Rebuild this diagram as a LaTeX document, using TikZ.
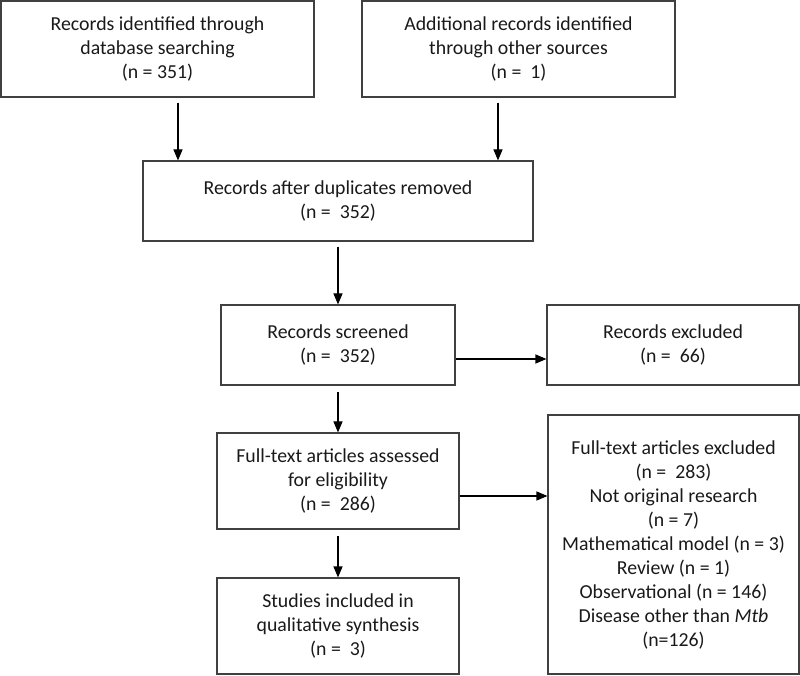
\documentclass[tikz,border=0pt]{standalone}
\usepackage{fontspec}
\setmainfont{Carlito}
\usetikzlibrary{arrows.meta}
\usetikzlibrary{calc}

\tikzset{
  box/.style={draw=black!75, line width=1.1pt, align=center, inner sep=0pt,
    font=\fontsize{19.8}{24}\selectfont, text=black!90},
  flow/.style={-{Triangle[length=11pt,width=9pt]}, line width=1.1pt}
}

\begin{document}
\begin{tikzpicture}[x=1pt,y=1pt]
			\useasboundingbox (0,0) rectangle (800,675);
			
			\node[box, minimum width=313pt, minimum height=96pt] (dbase) at (157.5,626) {Records identified through\\database searching\\(n = 351)};
			
			\node[box, minimum width=313pt, minimum height=96pt] (other) at (518.5,626) {Additional records identified\\through other sources\\(n =~~1)};
			
			\node[box, minimum width=390pt, minimum height=80pt] (dupl) at (338,474) {Records after duplicates removed\\(n =~~352)};
			
			\node[box, minimum width=234pt, minimum height=80pt] (screen) at (338,330) {Records screened\\(n =~~352)};
			
			\node[box, minimum width=252pt, minimum height=80pt] (excl) at (673,330) {Records excluded\\(n =~~66)};
			
			\node[box, minimum width=242pt, minimum height=96pt] (full) at (338,194) {Full-text articles assessed\\for eligibility\\(n =~~286)};
			
			\node[box, minimum width=251pt, minimum height=259pt] (fullexcl) at (673.5,130.5) {Full-text articles excluded\\(n =~~283)\\Not original research\\(n = 7)\\Mathematical model (n = 3)\\Review (n = 1)\\Observational (n = 146)\\Disease other than \textit{Mtb}\\(n=126)};
			
			\node[box, minimum width=242pt, minimum height=96pt] (incl) at (338,49) {Studies included in\\qualitative synthesis\\(n =~~3)};
			
			\draw[flow] ([xshift=20.5pt,yshift=-5pt]dbase.south) -- ([xshift=20.5pt]dbase.south |- dupl.north);
			\draw[flow] ([xshift=-20.5pt,yshift=-5pt]other.south) -- ([xshift=-20.5pt]other.south |- dupl.north);
			
			\draw[flow] ([yshift=-5pt]dupl.south) -- (screen.north);
			\draw[flow] ([yshift=-14pt]screen.east) -- ([yshift=-14pt]screen.east -| excl.west);
			
			\draw[flow] ([yshift=-6pt]screen.south) -- (full.north);
			\draw[flow] ([yshift=-15pt]full.east) -- ([yshift=-15pt]full.east -| fullexcl.west);
			
			\draw[flow] ([yshift=-6pt]full.south) -- (incl.north);
			
\end{tikzpicture}
\end{document}
